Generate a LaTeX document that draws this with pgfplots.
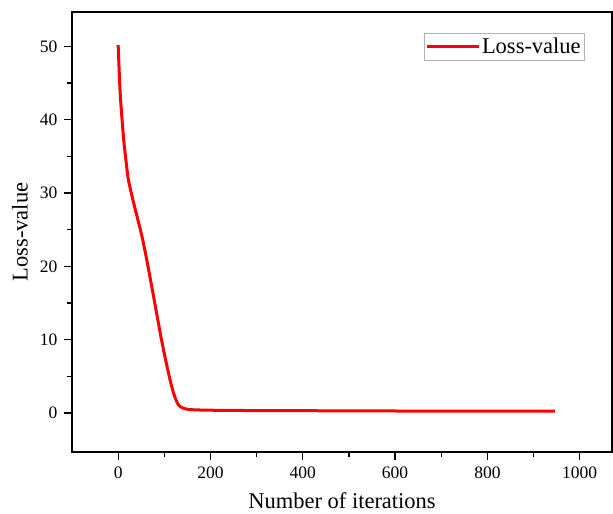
\documentclass[border=0pt]{standalone}
\usepackage{pgfplots}
\pgfplotsset{compat=1.18}
\usepackage{fontspec}
\setmainfont{Liberation Serif}
\begin{document}
\begin{tikzpicture}
\begin{axis}[
  scale only axis, width=540pt, height=440pt,
  xmin=-100, xmax=1070, ymin=-5.3, ymax=54.7,
  xtick={0,200,...,1000}, ytick={0,10,...,50},
  xticklabels={0,200,400,600,800,1000},
  yticklabels={0,10,20,30,40,50},
  minor x tick num=1, minor y tick num=1,
  xtick pos=left, ytick pos=left, tick align=outside,
  major tick length=8pt, minor tick length=5pt,
  every tick/.style={black, line width=1.3pt},
  axis line style={line width=1.3pt},
  xticklabel style={font=\fontsize{17.5}{20}\selectfont, yshift=-3pt},
  yticklabel style={font=\fontsize{17.5}{20}\selectfont, xshift=-3pt},
  xlabel={Number of iterations}, ylabel={Loss-value},
  label style={font=\fontsize{22.5}{26}\selectfont},
  xlabel style={at={(axis description cs:0.5,0)}, anchor=base, yshift=-57pt},
  ylabel style={at={(axis description cs:0,0.5)}, anchor=center, yshift=52pt},
  legend style={at={(0.948,0.952)}, anchor=north east, draw=gray!60,
    font=\fontsize{22.5}{26}\selectfont, inner xsep=1pt, inner ysep=3pt},
  legend cell align=left,
  legend image code/.code={\draw[#1, line width=3pt] (0pt,0pt) -- (52pt,0pt);},
]
\addplot[red, line width=3pt, smooth, tension=0.5] coordinates {
  (0,50.2) (4,44.1) (8,40.4) (12,37.3) (17,34.4) (22,31.9) (30,29.6)
  (37,27.8) (45,25.8) (53,23.7) (62,20.9) (73,17.2) (84,13.4)
  (93,10.3) (102,7.5) (110,5.2) (117,3.4) (124,2.0) (131,1.1)
  (140,0.7) (153,0.5) (180,0.42) (222,0.38) (300,0.35) (400,0.33)
  (500,0.31) (600,0.29) (700,0.28) (800,0.27) (900,0.26) (946,0.26)
};
\addlegendentry{Loss-value}
\end{axis}
\path ([shift={(-72pt,-62pt)}]current axis.south west) rectangle ([shift={(1pt,12pt)}]current axis.north east);
\end{tikzpicture}
\end{document}
